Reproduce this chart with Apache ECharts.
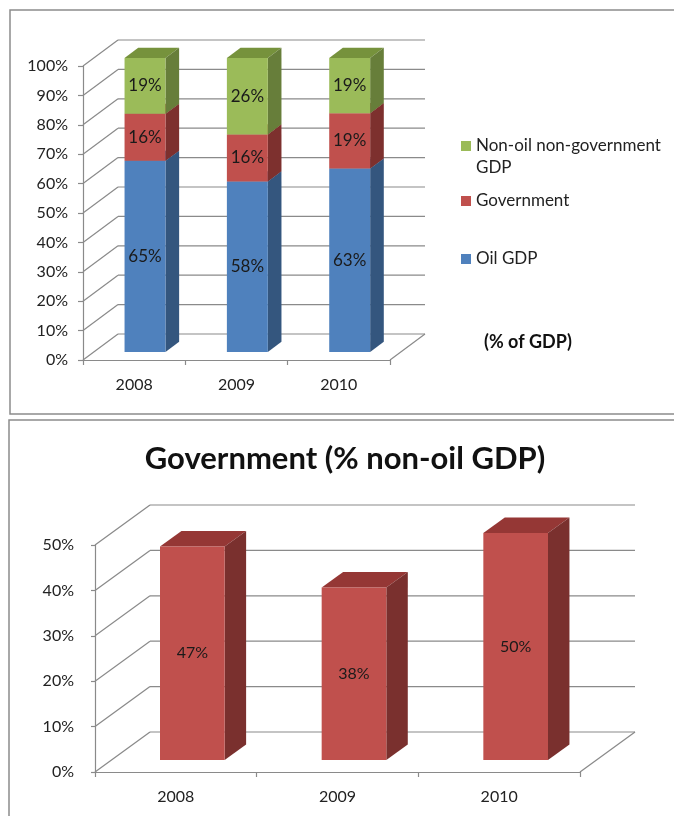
<!DOCTYPE html>
<html><head><meta charset="utf-8">
<script src="https://cdn.jsdelivr.net/npm/echarts@6/dist/echarts.min.js"></script>
<style>html,body{margin:0;padding:0;background:#fff}#c{width:674px;height:816px}</style>
</head><body><div id="c"></div>
<script>
// ---- data ----
const categories = ['2008', '2009', '2010'];
const oilGDP = [65, 58, 63];
const government = [16, 16, 19];
const nonOilNonGov = [19, 26, 19];
const topTicks = [0, 10, 20, 30, 40, 50, 60, 70, 80, 90, 100];
const govShareNonOil = [47, 38, 50];
const bottomTicks = [0, 10, 20, 30, 40, 50];

const seriesNames = ['Oil GDP', 'Government', 'Non-oil non-government GDP'];
const FONT = 'Lato';
const GRID_LINE = '#8a8a8a';

// 100% stacked segments: [cat, low, high, raw]
function stackSegments(seriesList) {
  const totals = categories.map((c, i) => seriesList.reduce((s, a) => s + a[i], 0));
  const cum = categories.map(() => 0);
  return seriesList.map(arr => arr.map((v, i) => {
    const lo = cum[i] / totals[i] * 100;
    cum[i] += v;
    const hi = cum[i] / totals[i] * 100;
    return [i, lo, hi, v];
  }));
}
const stacked = stackSegments([oilGDP, government, nonOilNonGov]);

function wallRender(DX, DY) {
  return function (params, api) {
    const cs = params.coordSys;
    const y = api.coord([0, api.value(1)])[1];
    const x0 = cs.x, x1 = cs.x + cs.width;
    const style = { stroke: GRID_LINE, lineWidth: 1.2, fill: null };
    const children = [
      { type: 'line', shape: { x1: x0, y1: y, x2: x0 + DX, y2: y + DY }, style },
      { type: 'line', shape: { x1: x0 + DX, y1: y + DY, x2: x1 + DX, y2: y + DY }, style }
    ];
    if (params.dataIndex === 0) {
      children.push({ type: 'line', shape: { x1: x1, y1: y, x2: x1 + DX, y2: y + DY }, style });
    }
    return { type: 'group', children };
  };
}

function barRender(g) {
  return function (params, api) {
    const cat = api.value(0), lo = api.value(1), hi = api.value(2), raw = api.value(3);
    const pLo = api.coord([cat, lo]);
    const pHi = api.coord([cat, hi]);
    const band = api.size([1, 0])[0];
    const w = band * g.wFrac;
    const xl = pLo[0] - w / 2, xr = pLo[0] + w / 2;
    const ox = g.DX * g.f1, oy = g.DY * g.f1, bx = g.DX * g.f2, by = g.DY * g.f2;
    const yb = pLo[1], yt = pHi[1];
    const c = g.colors;
    return {
      type: 'group',
      children: [
        { type: 'polygon', shape: { points: [[xl + ox, yt + oy], [xr + ox, yt + oy], [xr + bx, yt + by], [xl + bx, yt + by]] }, style: { fill: c[2] } },
        { type: 'polygon', shape: { points: [[xr + ox, yt + oy], [xr + bx, yt + by], [xr + bx, yb + by], [xr + ox, yb + oy]] }, style: { fill: c[1] } },
        { type: 'rect', shape: { x: xl + ox, y: yt + oy, width: w, height: yb - yt }, style: { fill: c[0] } },
        { type: 'text', style: { text: raw + '%', x: pLo[0] + ox, y: (yt + yb) / 2 + oy, align: 'center', verticalAlign: 'middle', fill: '#1a1a1a', font: g.font } }
      ]
    };
  };
}

const topGeom = { DX: 35, DY: -26, f1: 0.31, f2: 0.70, wFrac: 0.40, font: '17px ' + FONT };
const botGeom = { DX: 55, DY: -40, f1: 0.30, f2: 0.69, wFrac: 0.40, font: '16px ' + FONT };
const topColors = [
  ['#4F81BD', '#34567E', '#3F6797'],
  ['#C0504D', '#7D302E', '#953735'],
  ['#9BBB59', '#677E3A', '#76923C']
];
const botColors = ['#C0504D', '#7A302E', '#953735'];

const chart = echarts.init(document.getElementById('c'), null, { renderer: 'canvas' });
const axisLineStyle = { lineStyle: { color: GRID_LINE, width: 1.2 } };
const legendText = { fontFamily: FONT, fontSize: 17, color: '#222', lineHeight: 22 };

const option = {
  animation: false,
  textStyle: { fontFamily: FONT },
  graphic: [
    { type: 'rect', shape: { x: 10, y: 10, width: 700, height: 404 }, style: { fill: null, stroke: '#8c8c8c', lineWidth: 1.5 }, z: 0 },
    { type: 'rect', shape: { x: 9, y: 420, width: 700, height: 420 }, style: { fill: null, stroke: '#8c8c8c', lineWidth: 1.5 }, z: 0 }
  ],
  title: [
    { text: '(% of GDP)', left: 479, top: 328, textStyle: { fontFamily: FONT, fontSize: 18, fontWeight: 'bold', color: '#111' } },
    { text: 'Government (% non-oil GDP)', left: 340, top: 438, textAlign: 'center', textStyle: { fontFamily: FONT, fontSize: 31, fontWeight: 'bold', color: '#111' } }
  ],
  legend: [
    { data: [seriesNames[2]], left: 456, top: 108, itemWidth: 10, itemHeight: 10, icon: 'rect',
      formatter: () => ' \nNon-oil non-government\nGDP',
      textStyle: legendText },
    { data: [seriesNames[1]], left: 456, top: 185, itemWidth: 10, itemHeight: 10, icon: 'rect',
      textStyle: legendText },
    { data: [seriesNames[0]], left: 456, top: 243, itemWidth: 10, itemHeight: 10, icon: 'rect',
      textStyle: legendText }
  ],
  grid: [
    { left: 83, top: 66, width: 307, height: 294 },
    { left: 95, top: 545, width: 485, height: 227 }
  ],
  xAxis: [
    { gridIndex: 0, type: 'category', data: categories, boundaryGap: true,
      axisLine: axisLineStyle, axisTick: { show: true, length: 5, lineStyle: { color: GRID_LINE, width: 1.2 } },
      axisLabel: { fontSize: 16, color: '#222', margin: 17, fontFamily: FONT } },
    { gridIndex: 1, type: 'category', data: categories, boundaryGap: true,
      axisLine: axisLineStyle, axisTick: { show: true, length: 5, lineStyle: { color: GRID_LINE, width: 1.2 } },
      axisLabel: { fontSize: 16, color: '#222', margin: 17, fontFamily: FONT } }
  ],
  yAxis: [
    { gridIndex: 0, type: 'value', min: 0, max: 100, interval: 10,
      axisLine: { show: true, lineStyle: { color: GRID_LINE, width: 1.2 } }, axisTick: { show: true, length: 5, lineStyle: { color: GRID_LINE, width: 1.2 } },
      splitLine: { show: false },
      axisLabel: { formatter: '{value}%', fontSize: 16, color: '#222', margin: 15, fontFamily: FONT } },
    { gridIndex: 1, type: 'value', min: 0, max: 50, interval: 10,
      axisLine: { show: true, lineStyle: { color: GRID_LINE, width: 1.2 } }, axisTick: { show: true, length: 4, lineStyle: { color: GRID_LINE, width: 1.2 } },
      splitLine: { show: false },
      axisLabel: { formatter: '{value}%', fontSize: 16, color: '#222', margin: 21, fontFamily: FONT } }
  ],
  series: [
    { type: 'custom', name: 'walls-top', xAxisIndex: 0, yAxisIndex: 0, clip: false, z: 1, silent: true,
      renderItem: wallRender(topGeom.DX, topGeom.DY), encode: { x: 0, y: 1 },
      data: topTicks.map(v => [0, v]) },
    { type: 'custom', name: 'walls-bottom', xAxisIndex: 1, yAxisIndex: 1, clip: false, z: 1, silent: true,
      renderItem: wallRender(botGeom.DX, botGeom.DY), encode: { x: 0, y: 1 },
      data: bottomTicks.map(v => [0, v]) },
    ...seriesNames.map((name, k) => ({
      type: 'custom', name, xAxisIndex: 0, yAxisIndex: 0, clip: false, z: 2,
      itemStyle: { color: topColors[k][0] },
      renderItem: barRender(Object.assign({}, topGeom, { colors: topColors[k] })),
      encode: { x: 0, y: [1, 2] },
      data: stacked[k]
    })),
    { type: 'custom', name: 'Government (% non-oil GDP)', xAxisIndex: 1, yAxisIndex: 1, clip: false, z: 2,
      itemStyle: { color: botColors[0] },
      renderItem: barRender(Object.assign({}, botGeom, { colors: botColors })),
      encode: { x: 0, y: [1, 2] },
      data: govShareNonOil.map((v, i) => [i, 0, v, v]) }
  ]
};
chart.setOption(option);
</script>
</body></html>
